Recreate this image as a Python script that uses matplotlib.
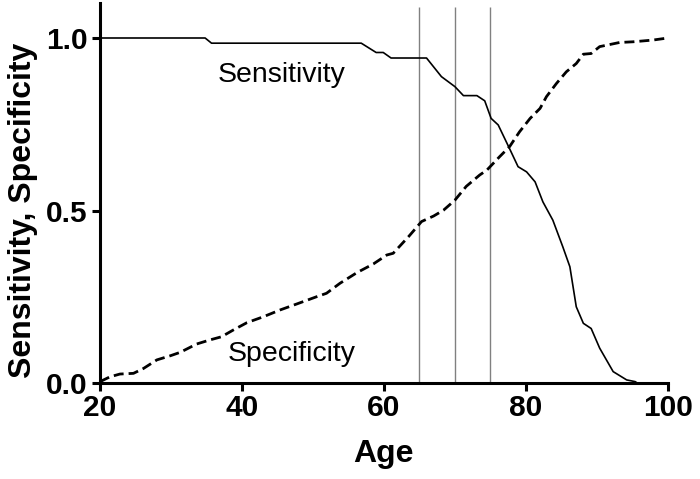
import matplotlib
matplotlib.use('Agg')
import matplotlib.pyplot as plt

plt.rcParams['font.family'] = ['Liberation Sans', 'DejaVu Sans']

sens_age = [20, 34.8, 35.7, 56.8, 58.9, 59.9, 61.0, 66.0, 68.1, 70.0, 71.2, 73.1,
            74.2, 75.1, 76.1, 77.8, 78.9, 80.1, 81.3, 82.4, 83.8, 85.2, 86.2,
            87.1, 88.1, 89.2, 90.4, 92.3, 94.2, 95.4, 95.7]
sens_val = [1.0, 1.0, 0.985, 0.985, 0.958, 0.958, 0.942, 0.942, 0.888, 0.859,
            0.833, 0.833, 0.818, 0.767, 0.748, 0.675, 0.627, 0.612, 0.583,
            0.525, 0.472, 0.395, 0.337, 0.221, 0.173, 0.158, 0.101, 0.033,
            0.009, 0.004, 0.0]

spec_age = [20, 21.4, 22.8, 24.7, 26.1, 28.0, 29.9, 31.3, 33.6, 35.5, 37.1, 38.8,
            40.7, 43.0, 45.4, 47.7, 50.5, 51.9, 53.8, 56.2, 58.5, 60.4, 61.3,
            63.5, 65.3, 67.0, 68.4, 70.0, 71.6, 73.5, 74.5, 76.3, 77.7, 79.1,
            80.6, 82.0, 82.9, 84.3, 85.7, 87.1, 88.1, 89.2, 90.4, 93.2, 95.1,
            97.9, 100]
spec_val = [0.004, 0.018, 0.026, 0.028, 0.042, 0.067, 0.079, 0.089, 0.113, 0.125,
            0.134, 0.154, 0.175, 0.192, 0.212, 0.229, 0.250, 0.260, 0.289, 0.320,
            0.345, 0.371, 0.376, 0.425, 0.468, 0.484, 0.501, 0.530, 0.570, 0.603,
            0.617, 0.656, 0.685, 0.728, 0.767, 0.796, 0.830, 0.868, 0.902, 0.926,
            0.953, 0.955, 0.975, 0.987, 0.989, 0.994, 1.0]

cutoffs = [65, 70, 75]
xticks = [20, 40, 60, 80, 100]
yticks = [0.0, 0.5, 1.0]
ytick_labels = ['0.0', '0.5', '1.0']

fig = plt.figure(figsize=(7, 4.79), dpi=100)
ax = fig.add_axes([0.143, 0.2004, 0.811, 0.7923])

ax.vlines(cutoffs, 0, 1.09, color='#808080', lw=1)
ax.plot(sens_age, sens_val, color='black', lw=1.2, clip_on=False)
ax.plot(spec_age, spec_val, color='black', lw=2, ls=(0, (3.6, 1.8)), clip_on=False)

ax.text(45.6, 0.872, 'Sensitivity', fontsize=20.5, ha='center', va='baseline')
ax.text(47.0, 0.065, 'Specificity', fontsize=20.5, ha='center', va='baseline')

ax.set_xlim(20, 100)
ax.set_ylim(0, 1.1)
ax.set_xticks(xticks)
ax.set_yticks(yticks)
ax.set_yticklabels(ytick_labels)
for s in ['top', 'right']:
    ax.spines[s].set_visible(False)
for s in ['left', 'bottom']:
    ax.spines[s].set_linewidth(2.2)
ax.tick_params(width=2.2, length=6, labelsize=21.5)
ax.tick_params(axis='x', pad=2)
ax.tick_params(axis='y', pad=3)
for lab in ax.get_xticklabels() + ax.get_yticklabels():
    lab.set_fontweight('bold')

ax.set_xlabel('Age', fontsize=23, fontweight='bold')
ax.set_ylabel('Sensitivity, Specificity', fontsize=23, fontweight='bold')
ax.yaxis.set_label_coords(-0.11, 0.4545)
ax.xaxis.set_label_coords(0.5, -0.148)

fig.savefig('out.png', dpi=100)
